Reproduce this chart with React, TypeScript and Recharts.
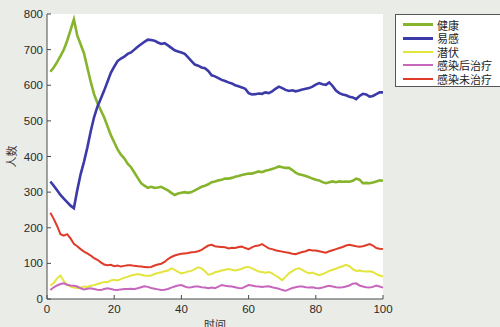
import React from "react";
import {
  LineChart,
  Line,
  XAxis,
  YAxis,
  CartesianGrid,
  Legend,
  Label
} from "recharts";

// time steps 1..100
const steps = Array.from({ length: 100 }, (_, i) => i + 1);

const xTicks = [0, 20, 40, 60, 80, 100];
const yTicks = [0, 100, 200, 300, 400, 500, 600, 700, 800];

const healthy = [
  638, 650, 665, 682, 700, 725, 755, 785, 740, 715,
  690, 650, 610, 575, 550, 530, 510, 485, 460, 440,
  420, 405, 395, 380, 370, 355, 340, 325, 318, 312,
  315, 312, 313, 315, 310, 305, 298, 292, 296, 298,
  300, 298, 300, 305, 310, 315, 318, 322, 328, 330,
  333, 335, 338, 338, 340, 343, 345, 348, 350, 352,
  352, 355, 358, 356, 360, 362, 365, 368, 372, 370,
  368, 368, 362, 355, 350, 348, 345, 342, 338, 335,
  333, 328, 325, 328, 330, 328, 330, 329, 330, 329,
  332, 338, 335, 325, 326, 325, 327, 330, 333, 332
];

const susceptible = [
  330, 318, 305, 292, 282, 272, 262, 255, 305, 350,
  385, 425, 470, 510, 540, 562, 585, 610, 635, 652,
  668, 675, 680, 688, 692, 700, 708, 715, 722, 728,
  727, 725, 720, 716, 718, 712, 705, 698, 695, 692,
  688, 678, 668, 658, 655, 650, 648, 640, 628, 625,
  620, 615, 612, 608, 605, 600, 597, 594, 590, 578,
  574, 575, 577, 576, 580, 578, 583, 590, 596, 592,
  587, 584, 586, 583, 585, 588, 590, 592, 596, 602,
  606, 603, 601, 608, 598, 585, 578, 574, 572, 568,
  566, 561, 570, 576, 574, 568, 570, 575, 580, 580
];

const latent = [
  38, 45, 58, 66, 50, 40, 35, 32, 30, 32,
  35, 34, 37, 39, 42, 45, 48, 47, 52, 54,
  52, 56, 60, 62, 66, 68, 70, 68, 66, 65,
  66, 70, 73, 75, 78, 80, 86, 82, 76, 72,
  74, 77, 79, 84, 89, 86, 78, 68, 70, 75,
  77, 80, 82, 84, 82, 80, 82, 85, 89, 90,
  86, 82, 77, 76, 74, 76, 72, 66, 60, 53,
  62, 72, 78, 84, 86, 82, 76, 72, 74, 70,
  67, 70, 74, 79, 82, 85, 89, 92, 96, 92,
  84, 79, 80, 78, 77, 78, 76, 70, 66, 63
];

const treated = [
  25, 33, 38, 42, 44, 40, 38, 37, 35, 30,
  27, 29, 30, 28, 26, 25, 28, 30, 28, 26,
  25, 27, 28, 28, 29, 28, 30, 33, 36, 34,
  31, 29, 27, 25, 26, 28, 32, 35, 38, 39,
  35, 32, 33, 35, 35, 33, 32, 30, 32, 30,
  35, 39, 37, 36, 35, 33, 31, 30, 35, 39,
  38, 36, 35, 34, 35, 36, 33, 31, 29, 25,
  23, 27, 31, 33, 35, 35, 33, 32, 33, 31,
  30, 32, 35, 37, 35, 33, 32, 33, 35, 38,
  43, 44, 38, 35, 33, 32, 34, 38, 35, 32
];

const untreated = [
  242, 225, 205, 182, 178, 182, 170, 155, 148, 140,
  133, 128, 122, 115, 110, 103, 97, 95, 96, 92,
  94, 91, 93, 95, 95, 93, 92, 91, 90, 89,
  90, 94, 97, 99, 104, 112, 118, 122, 125, 127,
  128, 129, 131, 132, 134, 138, 144, 150, 152, 148,
  147, 146, 145, 142, 144, 143, 146, 147, 143, 140,
  145, 149, 150, 154, 148, 142, 140, 137, 135, 133,
  131, 130, 127, 126, 129, 132, 134, 138, 136, 136,
  134, 132, 130, 134, 137, 140, 143, 146, 150, 152,
  150, 148, 147, 148, 151, 154, 150, 143, 141, 140
];

const series = [
  { key: "healthy", name: "健康", color: "#86b42c", width: 2.6 },
  { key: "susceptible", name: "易感", color: "#3b3aa8", width: 2.6 },
  { key: "latent", name: "潜伏", color: "#e4e43e", width: 2 },
  { key: "treated", name: "感染后治疗", color: "#c766bd", width: 2 },
  { key: "untreated", name: "感染未治疗", color: "#e03b28", width: 2 }
];

const data = steps.map((t, i) => ({
  t,
  healthy: healthy[i],
  susceptible: susceptible[i],
  latent: latent[i],
  treated: treated[i],
  untreated: untreated[i]
}));

const axisColor = "#4a4a4a";
const tickFont = { fontSize: 11.5, fill: "#2a2a2a", fontFamily: "Liberation Sans, Arial, sans-serif" };

function LegendBox() {
  return (
    <div
      style={{
        background: "#fff",
        border: "1px solid #555",
        width: 120,
        height: 73,
        boxSizing: "border-box",
        paddingTop: 3
      }}
    >
      {series.map((s) => (
        <div key={s.key} style={{ display: "flex", alignItems: "center", height: 13.5 }}>
          <div
            style={{
              marginLeft: 7,
              width: 30,
              height: s.width,
              background: s.color
            }}
          />
          <span
            style={{
              display: "block",
              marginLeft: 4,
              fontSize: 11,
              height: 12,
              color: "#222",
              fontFamily: "Noto Sans CJK SC, sans-serif",
              lineHeight: "12px"
            }}
          >
            {s.name}
          </span>
        </div>
      ))}
    </div>
  );
}

export default function App() {
  return (
    <div style={{ width: 500, height: 327, background: "#eaece7", position: "relative", overflow: "hidden" }}>
      <style>{`body{margin:0}`}</style>
      <LineChart
        width={500}
        height={327}
        data={data}
        margin={{ top: 14, right: 117, bottom: 0, left: 0 }}
      >
        <CartesianGrid horizontal={false} vertical={false} fill="#ffffff" stroke="none" />
        <XAxis
          dataKey="t"
          type="number"
          domain={[0, 100]}
          ticks={xTicks}
          height={28}
          stroke={axisColor}
          tickSize={-4}
          tickMargin={10}
          tick={tickFont}
        >
          <Label
            value="时间"
            position="insideBottom"
            offset={-2}
            style={{ fontSize: 11, fill: "#333", fontFamily: "Noto Sans CJK SC, sans-serif" }}
          />
        </XAxis>
        <XAxis
          xAxisId="top"
          dataKey="t"
          type="number"
          orientation="top"
          domain={[0, 100]}
          ticks={xTicks}
          height={0}
          stroke={axisColor}
          tickSize={-4}
          tick={false}
        />
        <YAxis
          type="number"
          domain={[0, 800]}
          ticks={yTicks}
          width={47}
          stroke={axisColor}
          tickSize={-4}
          tickMargin={8}
          tick={tickFont}
        >
          <Label
            value="人数"
            angle={-90}
            position="insideLeft"
            offset={12}
            style={{ fontSize: 11, fill: "#333", textAnchor: "middle", fontFamily: "Noto Sans CJK SC, sans-serif" }}
          />
        </YAxis>
        <YAxis
          yAxisId="right"
          orientation="right"
          type="number"
          domain={[0, 800]}
          ticks={yTicks}
          width={0}
          stroke={axisColor}
          tickSize={-4}
          tick={false}
        />
        <Legend
          layout="vertical"
          align="center"
          verticalAlign="middle"
          wrapperStyle={{ left: 395, top: 14, width: 120 }}
          content={() => <LegendBox />}
        />
        {series.map((s) => (
          <Line
            key={s.key}
            type="linear"
            dataKey={s.key}
            name={s.name}
            stroke={s.color}
            strokeWidth={s.width}
            dot={false}
            isAnimationActive={false}
          />
        ))}
      </LineChart>
    </div>
  );
}
